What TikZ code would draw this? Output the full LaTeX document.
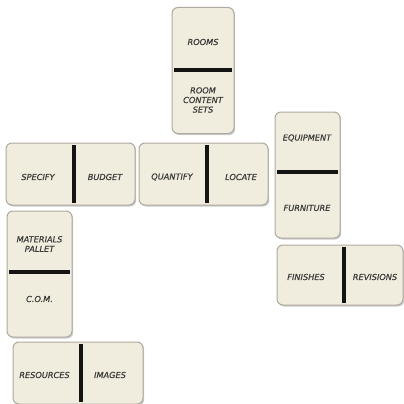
\documentclass[tikz,border=0pt]{standalone}
\usepackage{fontspec}
\setmainfont{DejaVu Sans}
\newfontfamily\lblfont{DejaVu Sans}[ItalicFeatures={FakeBold=0.6}]
\usetikzlibrary{shadows,calc}
\definecolor{cream}{RGB}{240,236,222}
\definecolor{edge}{RGB}{175,169,157}
\definecolor{ink}{RGB}{58,58,56}
\begin{document}
\begin{tikzpicture}[x=1pt,y=-1pt,
  domino/.style={draw=edge, fill=cream, rounded corners=6pt, line width=1pt, inner sep=0pt,
    drop shadow={shadow xshift=1.2pt, shadow yshift=-1.5pt, fill=black!45, opacity=0.45}},
  vdom/.style={domino, minimum width=#1, minimum height=126pt},
  hdom/.style={domino, minimum height=62pt, minimum width=#1},
  lbl/.style={font=\lblfont\fontsize{8.2}{9.6}\selectfont\itshape, text=ink, align=center, inner sep=0pt},
  divider/.style={line width=3.2pt, black!92}]
\useasboundingbox (0,0) rectangle (404,404);
% dominoes
\node[vdom=62pt]  (d1) at (203,70.5) {};
\node[hdom=129pt] (d2) at (70.5,174) {};
\node[hdom=129pt] (d3) at (203.5,174) {};
\node[vdom=65pt]  (d4) at (307.5,175) {};
\node[domino, minimum width=126pt, minimum height=60pt] (d5) at (340,275) {};
\node[vdom=65pt]  (d6) at (39.5,274) {};
\node[hdom=130pt] (d7) at (78,373) {};
% dividers
\draw[divider] ($(d1.west)+(2.5,-0.5)$) -- ($(d1.east)+(-2.5,-0.5)$);
\draw[divider] ($(d2.north)+(3.5,2.5)$) -- ($(d2.south)+(3.5,-2.5)$);
\draw[divider] ($(d3.north)+(3.5,2.5)$) -- ($(d3.south)+(3.5,-2.5)$);
\draw[divider] ($(d4.west)+(2.5,-3)$) -- ($(d4.east)+(-2.5,-3)$);
\draw[divider] ($(d5.north)+(4,2.5)$) -- ($(d5.south)+(4,-2.5)$);
\draw[divider] ($(d6.west)+(2.5,-2)$) -- ($(d6.east)+(-2.5,-2)$);
\draw[divider] ($(d7.north)+(3,2.5)$) -- ($(d7.south)+(3,-2.5)$);
% labels
\node[lbl] (l1a) at (203,42) {ROOMS};
\node[lbl] (l1b) at (203,100) {ROOM\\CONTENT\\SETS};
\node[lbl] (l2a) at (38,177) {SPECIFY};
\node[lbl] (l2b) at (105,177) {BUDGET};
\node[lbl] (l3a) at (172,177) {QUANTIFY};
\node[lbl] (l3b) at (241,177) {LOCATE};
\node[lbl] (l4a) at (307,138) {EQUIPMENT};
\node[lbl] (l4b) at (307,208) {FURNITURE};
\node[lbl] (l5a) at (306,277) {FINISHES};
\node[lbl] (l5b) at (375,277) {REVISIONS};
\node[lbl] (l6a) at (39.5,244) {MATERIALS\\PALLET};
\node[lbl] (l6b) at (39.5,299) {C.O.M.};
\node[lbl] (l7a) at (44.5,375) {RESOURCES};
\node[lbl] (l7b) at (110,375) {IMAGES};
\end{tikzpicture}
\end{document}
